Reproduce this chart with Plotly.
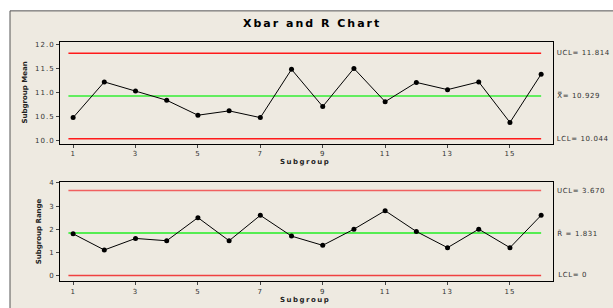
import plotly.graph_objects as go

subgroups = list(range(1, 17))
xbar_values = [10.48, 11.22, 11.03, 10.84, 10.53, 10.62, 10.48, 11.48,
               10.71, 11.50, 10.81, 11.21, 11.06, 11.22, 10.38, 11.38]
range_values = [1.8, 1.1, 1.6, 1.5, 2.5, 1.5, 2.6, 1.7,
                1.3, 2.0, 2.8, 1.9, 1.2, 2.0, 1.2, 2.6]
xbar_ucl, xbar_center, xbar_lcl = 11.814, 10.929, 10.044
r_ucl, r_center, r_lcl = 3.670, 1.831, 0.0
x_ticks = [1, 3, 5, 7, 9, 11, 13, 15]
line_span = [0.85, 16]

W, H = 613, 308
fig = go.Figure()

def px_x(p):
    return p / W

def px_y(p):
    return 1 - p / H

for val, col in [(xbar_ucl, "#ff1a1a"), (xbar_center, "#33ee33"), (xbar_lcl, "#ff1a1a")]:
    fig.add_trace(go.Scatter(x=line_span, y=[val, val], mode="lines",
                             line=dict(color=col, width=1.5),
                             xaxis="x", yaxis="y", showlegend=False, hoverinfo="skip"))
for val, col in [(r_ucl, "#f06060"), (r_center, "#22ee22"), (r_lcl, "#f04040")]:
    fig.add_trace(go.Scatter(x=line_span, y=[val, val], mode="lines",
                             line=dict(color=col, width=1.5),
                             xaxis="x2", yaxis="y2", showlegend=False, hoverinfo="skip"))

fig.add_trace(go.Scatter(x=subgroups, y=xbar_values, mode="lines+markers",
                         line=dict(color="black", width=1),
                         marker=dict(color="black", size=5),
                         xaxis="x", yaxis="y", showlegend=False))
fig.add_trace(go.Scatter(x=subgroups, y=range_values, mode="lines+markers",
                         line=dict(color="black", width=1),
                         marker=dict(color="black", size=5),
                         xaxis="x2", yaxis="y2", showlegend=False))

tickfont = dict(family="DejaVu Sans", size=7, color="#333333")
xdom = [px_x(60), px_x(553)]
axis_common = dict(showline=True, linecolor="black", linewidth=1, mirror=True,
                   ticks="outside", ticklen=3, tickcolor="#444444",
                   showgrid=False, zeroline=False, tickfont=tickfont)

fig.update_layout(
    width=W, height=H,
    margin=dict(l=0, r=0, t=0, b=0),
    paper_bgcolor="white",
    plot_bgcolor="white",
    xaxis=dict(domain=xdom, range=[0.58, 16.38], tickvals=x_ticks, anchor="y", **axis_common),
    yaxis=dict(domain=[px_y(143), px_y(40)], range=[9.94, 12.04],
               tickvals=[10.0, 10.5, 11.0, 11.5, 12.0], tickformat=".1f", anchor="x", **axis_common),
    xaxis2=dict(domain=xdom, range=[0.58, 16.38], tickvals=x_ticks, anchor="y2", **axis_common),
    yaxis2=dict(domain=[px_y(283), px_y(182)], range=[-0.26, 4.04],
                tickvals=[0, 1, 2, 3, 4], anchor="x2", **axis_common),
    shapes=[
        dict(type="rect", xref="paper", yref="paper", x0=px_x(10), x1=1.01, y0=-0.01, y1=px_y(8),
             fillcolor="#eeeae1", line=dict(color="#555555", width=1), layer="below"),
    ],
)

ann = []
ann.append(dict(text="<b>Xbar and R Chart</b>", x=px_x(312), y=px_y(21), xref="paper", yref="paper",
                showarrow=False, font=dict(family="DejaVu Sans", size=11, color="black"),
                xanchor="center", yanchor="middle", borderpad=0))
for ypix in [162, 302]:
    ann.append(dict(text="<b>Subgroup</b>", x=px_x(305), y=px_y(ypix), xref="paper", yref="paper",
                    showarrow=False, font=dict(family="DejaVu Sans", size=7, color="#222222"),
                    xanchor="center", yanchor="middle", borderpad=0))
ann.append(dict(text="<b>Subgroup Mean</b>", x=px_x(25), y=px_y(91), xref="paper", yref="paper",
                showarrow=False, textangle=-90, font=dict(family="DejaVu Sans", size=7, color="#222222"),
                xanchor="center", yanchor="middle", borderpad=0))
ann.append(dict(text="<b>Subgroup Range</b>", x=px_x(39), y=px_y(232), xref="paper", yref="paper",
                showarrow=False, textangle=-90, font=dict(family="DejaVu Sans", size=7, color="#222222"),
                xanchor="center", yanchor="middle", borderpad=0))
lab_font = dict(family="DejaVu Sans", size=7, color="#333333")
labels_top = [(xbar_ucl, "UCL= %.3f" % xbar_ucl), (xbar_center, "X\u033f= %.3f" % xbar_center),
              (xbar_lcl, "LCL= %.3f" % xbar_lcl)]
for v, t in labels_top:
    ann.append(dict(text=t, x=1.0, y=v, xref="x domain", yref="y", showarrow=False,
                    xanchor="left", yanchor="middle", xshift=6, font=lab_font, borderpad=0))
labels_bot = [(r_ucl, "UCL= %.3f" % r_ucl), (r_center, "R\u0304 = %.3f" % r_center),
              (r_lcl, "LCL= 0")]
for v, t in labels_bot:
    ann.append(dict(text=t, x=1.0, y=v, xref="x2 domain", yref="y2", showarrow=False,
                    xanchor="left", yanchor="middle", xshift=6, font=lab_font, borderpad=0))
fig.update_layout(annotations=ann)

post = """
document.body.style.margin='0';
document.querySelectorAll('.xtick text, .ytick text, .x2tick text, .y2tick text').forEach(function(e){e.style.letterSpacing='1px';});
document.querySelectorAll('g.annotation text').forEach(function(e){
  var t = e.textContent;
  if (t.indexOf('Xbar') === 0) { e.style.letterSpacing='2px'; }
  else if (t === 'Subgroup') { e.style.letterSpacing='1.5px'; }
  else if (t.indexOf('=') >= 0) { e.style.letterSpacing='0.6px'; }
});
"""
fig.write_html("out.html", post_script=post, config={"displayModeBar": False})
